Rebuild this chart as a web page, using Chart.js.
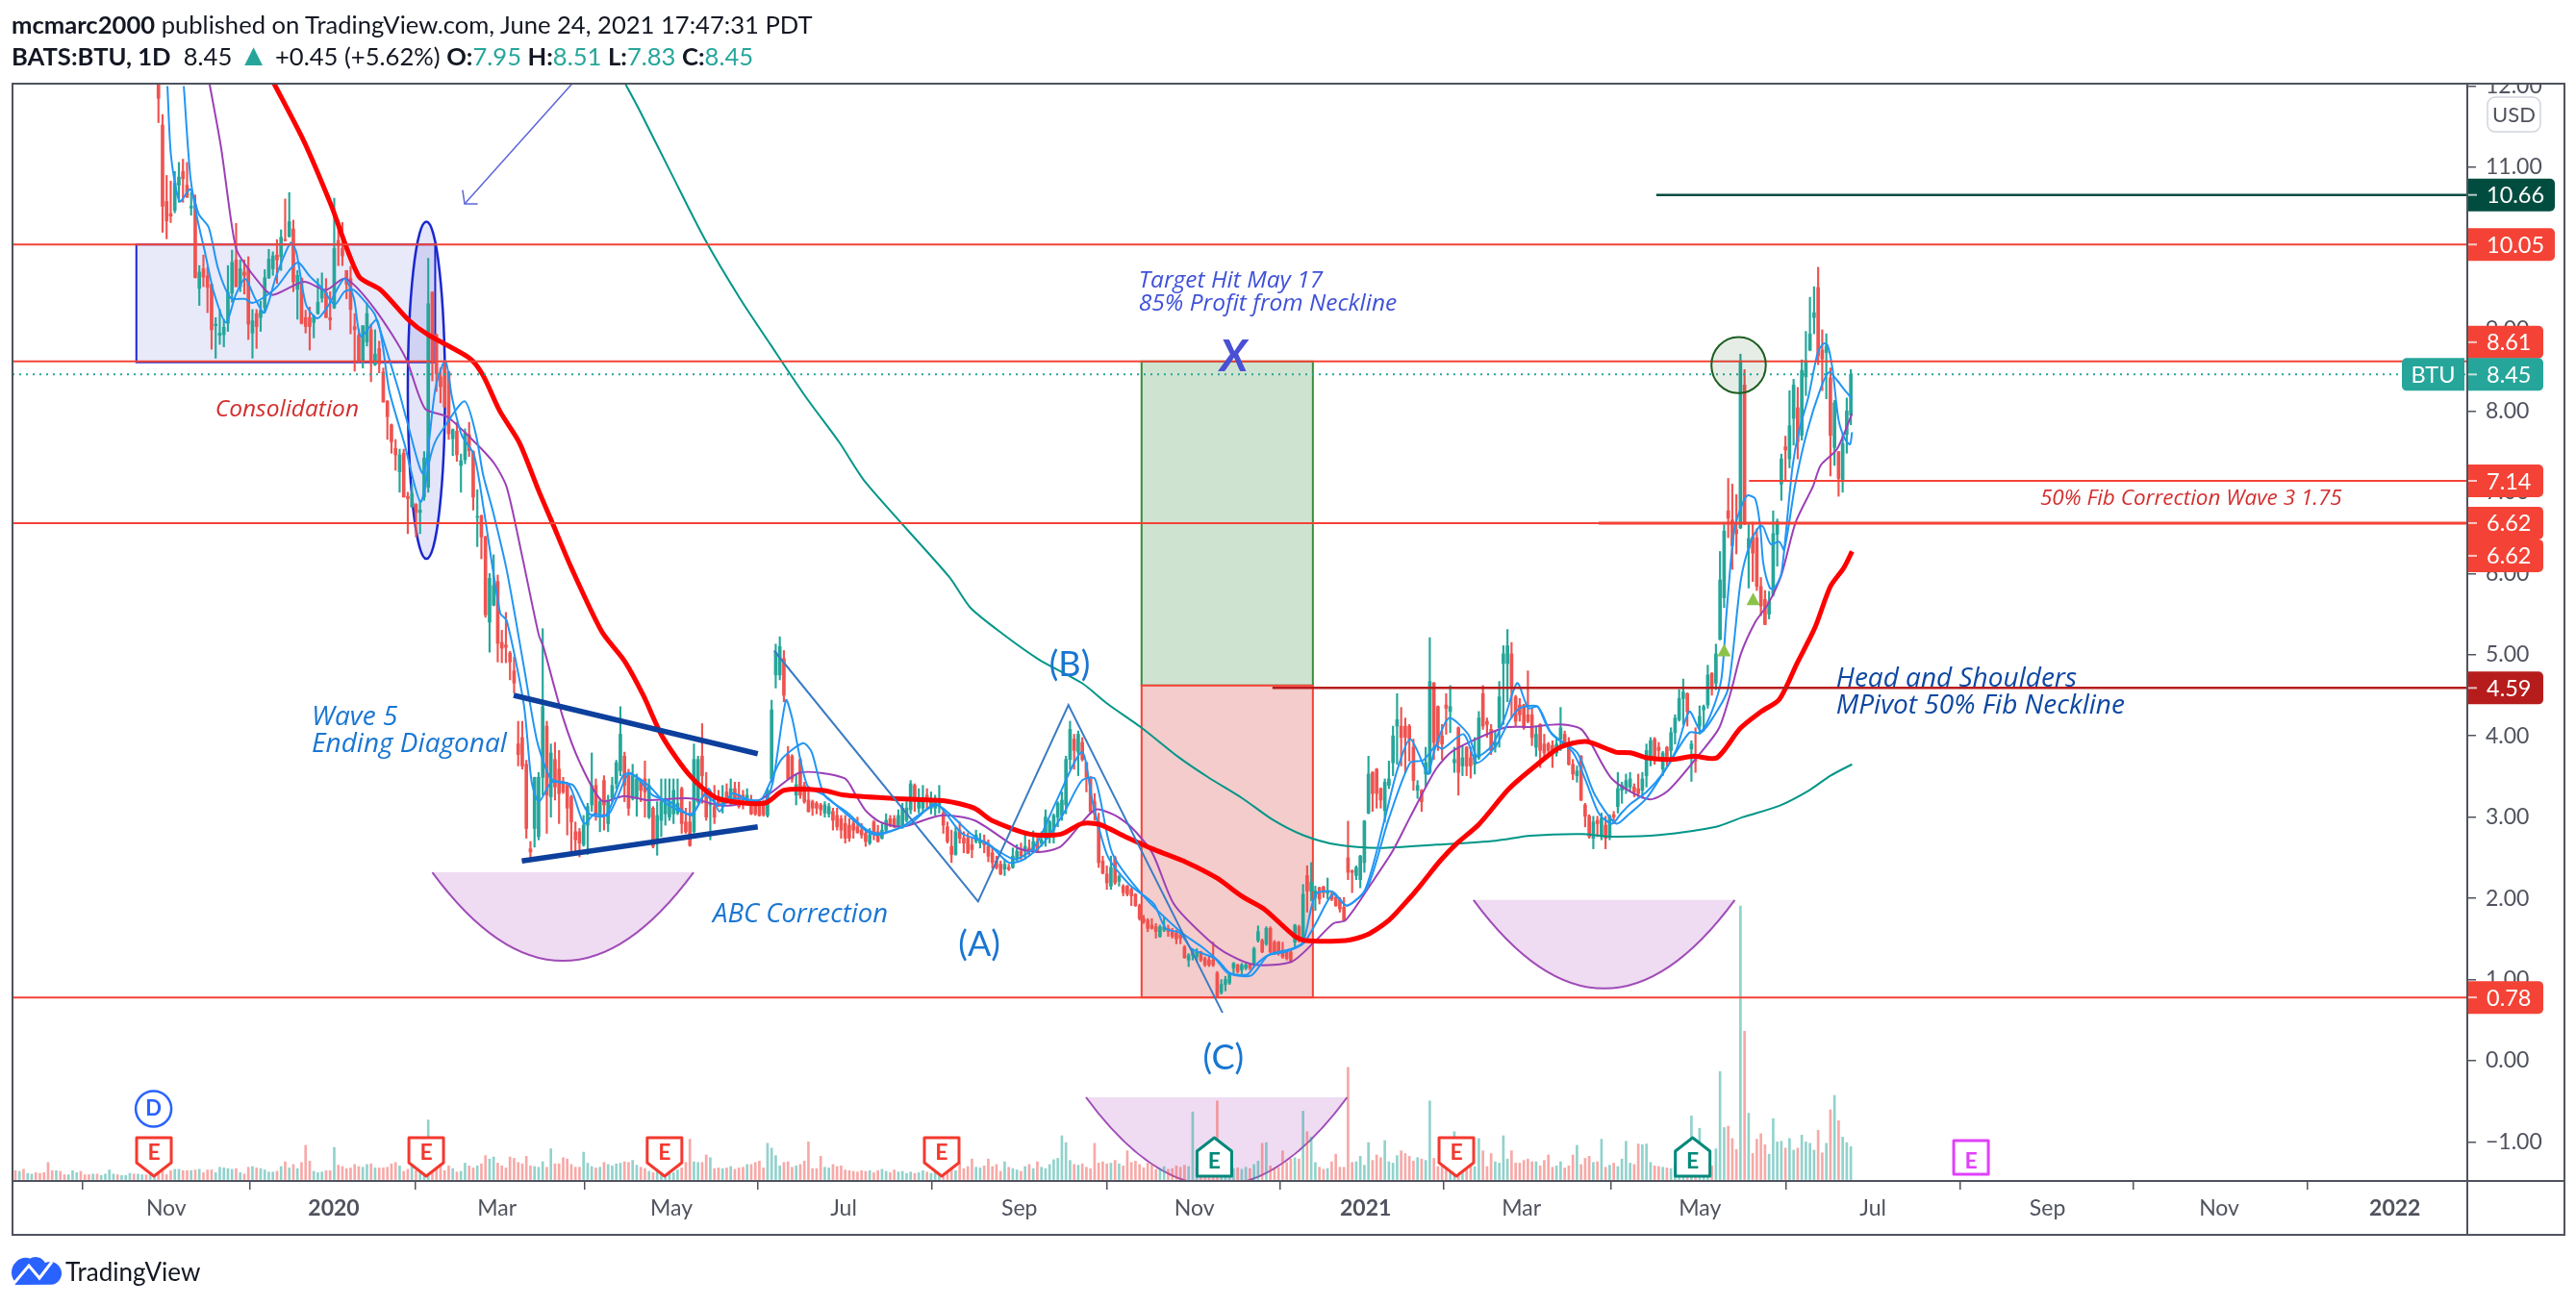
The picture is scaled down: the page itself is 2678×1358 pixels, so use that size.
<!DOCTYPE html>
<html>
<head>
<meta charset="utf-8">
<title>BATS:BTU, 1D</title>
<script src="https://cdn.jsdelivr.net/npm/chart.js@4/dist/chart.umd.min.js"></script>
<style>
    html, body { margin: 0; padding: 0; background: #fff; }
    #wrap { position: relative; width: 2678px; height: 1358px; overflow: hidden; font-family: Lato, sans-serif; color: #131722; }
    #chart { position: absolute; left: 0; top: 0; }
    .head { position: absolute; left: 12px; font-size: 25.6px; white-space: pre; line-height: 30px; }
    .head b { font-weight: 700; }
    .up { color: #26a69a; }
    .tri { color: #26a69a; font-size: 32px; line-height: 26px; }
    #foot { position: absolute; left: 68px; top: 1304px; font-size: 26px; line-height: 36px; color: #131722; }
</style>
</head>
<body>
<div id="wrap">
    <canvas id="chart" width="2678" height="1358"></canvas>
    <div class="head" style="top:10px"><b>mcmarc2000</b> published on TradingView.com, June 24, 2021 17:47:31 PDT</div>
    <div class="head" style="top:43px"><b>BATS:BTU, 1D</b>  8.45 <span class="tri">▲</span> +0.45 (+5.62%) <b>O:</b><span class="up">7.95</span> <b>H:</b><span class="up">8.51</span> <b>L:</b><span class="up">7.83</span> <b>C:</b><span class="up">8.45</span></div>
    <div id="foot">TradingView</div>
</div>
<script>
// x axis is in bar numbers, bar 0 is the first volume bar on the left
const lastBar = 449;
const xTickBars = [36.9, 77.9, 117.8, 160.5, 202.6, 245.6, 288.4, 330.3, 368.4, 412.1, 454.4, 497.1, 539.1, 582.1];
const xTickLabels = ['Nov', '2020', 'Mar', 'May', 'Jul', 'Sep', 'Nov', '2021', 'Mar', 'May', 'Jul', 'Sep', 'Nov', '2022'];
const yTickValues = [-1, 0, 1, 2, 3, 4, 5, 6, 7, 8, 9, 10, 11, 12];

// open, high, low, close for the bars that are on screen (older ones are above the top edge)
const candleRows = [
    [12.15,12.3,11.55,11.85],[11.52,11.65,10.2,10.52],[10.58,10.9,10.12,10.34],[10.43,10.83,10.32,10.4],[10.47,10.95,10.44,10.81],
    [10.78,11.06,10.57,10.88],[10.95,11.1,10.57,10.86],[10.78,11.06,10.63,10.63],[10.5,10.69,10.41,10.52],[10.54,10.66,9.64,9.64],
    [9.51,9.79,9.3,9.71],[9.75,9.92,9.53,9.65],[9.66,9.77,9.21,9.52],[9.56,9.56,8.76,9.0],[9.05,9.15,8.65,9.07],
    [8.93,9.25,8.82,8.96],[8.94,9.13,8.79,9.03],[9.08,9.79,8.98,9.46],[9.45,9.98,9.34,9.83],[9.86,10.31,9.53,9.53],
    [9.53,9.86,9.47,9.75],[9.71,9.86,9.44,9.67],[9.75,9.9,8.88,9.07],[8.96,9.25,8.65,9.11],[9.2,9.25,8.77,9.04],
    [9.15,9.35,8.98,9.24],[9.27,9.74,9.21,9.64],[9.64,9.99,9.63,9.87],[9.75,9.96,9.67,9.91],[9.92,10.11,9.57,9.86],
    [9.9,10.23,9.73,10.14],[10.11,10.61,10.09,10.1],[10.15,10.69,10.14,10.33],[10.24,10.35,9.47,9.59],[9.5,9.73,9.13,9.67],
    [9.63,9.64,9.07,9.08],[9.15,9.24,8.96,9.04],[9.15,9.28,8.75,9.04],[9.09,9.18,8.9,9.17],[9.2,9.63,9.19,9.34],
    [9.39,9.7,9.34,9.5],[9.46,9.63,9.15,9.15],[9.15,9.47,9.0,9.12],[9.27,10.62,9.26,10.0],[10.1,10.34,9.79,10.04],
    [10.0,10.32,9.79,9.91],[9.73,9.73,9.38,9.56],[9.63,9.78,8.95,9.25],[9.04,9.2,8.49,9.0],[8.93,9.01,8.6,8.61],
    [8.61,9.05,8.53,9.05],[8.85,9.33,8.8,9.2],[9.0,9.07,8.36,8.6],[8.57,9.0,8.56,8.7],[8.77,8.86,8.47,8.58],
    // Feb - Mar 2020 slide
    [8.48,8.53,8.11,8.11],[8.12,8.13,7.65,7.93],[7.83,7.84,7.48,7.62],[7.54,7.65,7.27,7.46],[7.25,7.53,7.0,7.46],
    [7.48,7.53,6.94,6.94],[6.95,7.0,6.49,6.92],[6.82,7.1,6.81,6.98],[6.85,6.86,6.45,6.75],[6.75,6.9,6.49,6.78],
    [6.94,7.5,6.9,7.42],[7.06,9.88,7.0,9.32],[9.46,9.47,8.37,8.62],[8.94,8.95,8.24,8.46],[8.42,8.53,8.1,8.3],
    [8.54,8.62,8.05,8.05],[8.48,8.49,7.65,7.72],[7.66,7.78,7.45,7.77],[7.75,7.86,7.38,7.46],[7.33,7.47,7.0,7.39],
    [7.4,7.78,7.35,7.73],[7.71,7.86,7.44,7.51],[7.5,7.51,6.78,6.94],[6.69,7.03,6.33,6.7],[6.71,6.72,6.18,6.45],
    [6.45,6.46,5.46,5.49],[5.4,6.0,5.03,5.94],[5.61,6.23,5.6,5.85],[5.9,5.98,4.91,5.14],[5.15,5.3,4.9,5.08],
    [5.12,5.52,4.9,5.09],[5.02,5.04,4.69,4.91],[4.8,4.97,4.53,4.65],
    // wedge, Mar - May 2020
    [3.9,4.18,3.63,3.77],[3.98,4.18,3.59,3.63],[3.65,3.7,2.74,2.86],[2.61,2.7,2.5,2.57],[2.86,3.49,2.63,3.49],
    [2.76,3.55,2.72,3.49],[3.49,5.32,3.27,4.36],[4.12,4.18,2.8,3.27],[3.25,3.9,3.0,3.79],[3.71,3.92,3.21,3.37],
    [3.59,3.82,2.92,3.29],[3.43,3.49,3.29,3.31],[3.39,3.43,2.78,3.11],[3.25,3.27,2.57,2.94],[2.82,2.94,2.58,2.72],
    [2.82,2.86,2.51,2.68],[2.66,3.02,2.64,2.9],[2.9,3.17,2.54,3.13],[3.15,3.79,3.07,3.39],[3.39,3.47,2.96,3.04],
    [3.05,3.23,2.82,3.19],[3.45,3.51,2.84,3.15],[2.92,3.27,2.82,3.21],[3.23,3.49,3.19,3.39],[3.41,3.7,3.35,3.67],
    [3.57,4.36,3.51,4.02],[3.75,3.8,3.19,3.39],[3.51,3.59,3.02,3.11],[3.23,3.65,3.21,3.51],[3.23,3.53,3.01,3.47],
    [3.43,3.47,3.19,3.33],[3.47,3.69,3.0,3.31],[3.0,3.47,2.98,3.39],[3.11,3.13,2.62,2.64],[2.68,3.19,2.53,3.02],
    [2.96,3.47,2.76,3.19],[3.04,3.47,2.9,3.23],[3.0,3.47,2.96,3.19],[3.04,3.47,2.92,3.33],[3.05,3.47,3.03,3.17],
    [3.35,3.37,2.8,2.92],[2.94,3.11,2.8,2.82],[2.94,3.19,2.64,2.65],[2.82,3.9,2.8,3.71],[3.19,3.75,3.17,3.71],
    [3.75,4.15,3.17,3.51],[3.27,3.55,2.96,3.0],[3.15,3.27,2.72,3.17],[3.13,3.39,2.92,3.0],[3.23,3.33,3.13,3.15],
    [3.13,3.39,3.05,3.21],[3.31,3.41,3.17,3.19],[3.23,3.47,3.15,3.35],[3.35,3.43,3.15,3.19],[3.27,3.43,3.11,3.13],
    [3.27,3.33,3.1,3.19],[3.19,3.35,3.15,3.27],[3.19,3.27,3.03,3.04],[3.19,3.21,3.02,3.04],[3.17,3.21,3.01,3.02],
    [3.17,3.21,3.01,3.03],[3.02,3.35,3.0,3.33],[3.47,4.44,3.43,4.32],[4.75,5.13,4.59,5.03],[4.75,5.22,4.69,5.1],
    [4.95,5.05,4.42,4.5],[3.77,3.87,3.46,3.47],[3.75,3.77,3.43,3.47],[3.27,3.53,3.15,3.4],[3.71,3.73,3.23,3.27],
    [3.39,3.43,3.17,3.19],[3.21,3.31,3.06,3.07],[3.19,3.21,3.02,3.11],[3.17,3.19,3.04,3.11],[3.15,3.17,3.02,3.09],
    [3.05,3.19,3.0,3.15],[3.04,3.17,3.0,3.13],[3.07,3.11,2.84,2.96],[3.02,3.11,2.84,2.88],[2.98,3.02,2.74,2.84],
    [2.92,3.02,2.68,2.74],[2.9,2.98,2.7,2.74],[2.92,2.96,2.74,2.84],[2.88,3.0,2.8,2.81],[2.84,2.92,2.74,2.78],
    [2.8,2.84,2.64,2.7],[2.68,2.86,2.66,2.78],[2.94,2.96,2.72,2.8],[2.82,2.9,2.69,2.7],[2.74,2.92,2.73,2.84],
    [2.84,3.04,2.82,2.96],[2.98,3.02,2.88,2.9],[2.98,3.02,2.87,2.88],[2.88,3.09,2.86,3.02],[2.88,3.17,2.86,3.11],
    [2.96,3.19,2.94,3.11],[3.09,3.45,3.04,3.41],[3.39,3.41,3.07,3.21],[3.11,3.35,3.05,3.23],[3.11,3.39,3.07,3.23],
    [3.27,3.35,3.09,3.19],[3.11,3.31,3.04,3.23],[3.11,3.27,3.02,3.21],[3.13,3.39,3.05,3.19],[3.05,3.11,2.8,2.9],
    [2.88,2.94,2.68,2.7],[2.64,2.84,2.44,2.54],[2.54,2.88,2.53,2.82],[2.84,2.94,2.68,2.74],[2.74,2.82,2.56,2.68],
    [2.74,2.8,2.55,2.56],[2.66,2.74,2.5,2.6],[2.7,2.84,2.68,2.78],[2.68,2.8,2.62,2.72],[2.7,2.78,2.56,2.66],
    [2.64,2.72,2.45,2.52],[2.56,2.64,2.37,2.44],[2.46,2.52,2.36,2.38],[2.42,2.46,2.29,2.3],[2.36,2.48,2.28,2.42],
    [2.38,2.42,2.34,2.36],[2.38,2.62,2.37,2.52],[2.48,2.66,2.46,2.58],[2.58,2.68,2.48,2.52],[2.58,2.8,2.48,2.64],
    [2.62,2.72,2.52,2.58],[2.6,2.83,2.56,2.7],[2.7,2.76,2.56,2.58],[2.68,2.82,2.64,2.72],[2.74,3.09,2.64,3.0],
    [2.8,2.96,2.68,2.94],[2.84,3.04,2.68,3.02],[3.0,3.19,2.88,3.17],[3.02,3.31,2.96,3.21],[3.15,3.75,3.04,3.71],
    [3.71,4.18,3.59,4.08],[3.96,4.02,3.59,3.82],[3.8,4.06,3.51,4.02],[3.92,3.98,3.69,3.71],[3.67,3.68,3.31,3.49],
    [3.49,3.5,3.05,3.07],[3.19,3.29,2.96,3.04],[2.94,3.05,2.38,2.44],[2.46,2.52,2.3,2.31],[2.3,2.4,2.11,2.19],
    [2.15,2.52,2.11,2.38],[2.5,2.52,2.17,2.19],[2.21,2.29,2.15,2.27],[2.15,2.17,2.03,2.07],
    // Oct - Dec 2020 low
    [2.15,2.16,2.03,2.05],[2.11,2.13,1.91,2.03],[2.05,2.06,1.9,1.91],[1.91,1.93,1.73,1.75],[1.75,1.79,1.69,1.71],
    [1.73,1.75,1.59,1.63],[1.67,1.75,1.62,1.63],[1.65,1.69,1.51,1.59],[1.53,1.67,1.52,1.65],[1.61,1.77,1.59,1.65],
    [1.63,1.67,1.53,1.59],[1.59,1.63,1.51,1.53],[1.57,1.61,1.44,1.5],[1.55,1.59,1.44,1.51],[1.4,1.42,1.26,1.27],
    [1.24,1.32,1.16,1.3],[1.3,1.38,1.24,1.36],[1.28,1.38,1.22,1.34],[1.34,1.35,1.22,1.24],[1.26,1.28,1.16,1.18],
    [1.24,1.28,1.16,1.18],[1.24,1.46,1.16,1.18],[1.08,1.1,0.78,0.8],[0.84,1.0,0.82,0.94],[0.94,1.04,0.86,1.0],
    [0.96,1.08,0.94,1.06],[1.14,1.21,1.08,1.2],[1.18,1.19,1.08,1.1],[1.12,1.2,1.04,1.18],[1.14,1.2,1.12,1.18],
    [1.18,1.2,1.12,1.14],[1.18,1.4,1.16,1.38],[1.48,1.66,1.46,1.59],[1.48,1.5,1.33,1.34],[1.44,1.65,1.42,1.63],
    [1.63,1.65,1.33,1.34],[1.46,1.48,1.31,1.32],[1.46,1.47,1.3,1.34],[1.34,1.46,1.26,1.28],[1.34,1.36,1.24,1.26],
    [1.34,1.38,1.21,1.22],[1.46,1.68,1.38,1.67],[1.65,1.67,1.46,1.48],[1.48,2.17,1.46,2.05],[2.28,2.4,1.83,2.09],
    [2.09,2.44,1.97,2.2],[2.01,2.15,1.85,2.09],[2.13,2.14,1.93,1.99],[2.14,2.15,2.01,2.07],[2.06,2.25,1.99,2.09],
    [2.05,2.09,1.97,1.99],[2.01,2.05,1.9,1.91],[1.99,2.01,1.83,1.87],[1.89,2.01,1.72,1.73],[2.5,2.95,2.23,2.32],
    [2.34,2.35,2.07,2.32],[2.28,2.4,2.23,2.38],[2.23,2.53,2.13,2.52],[2.44,2.96,2.32,2.95],[3.05,3.75,3.04,3.53],
    [3.55,3.56,3.07,3.29],[3.59,3.6,3.11,3.29],[3.35,3.36,3.11,3.21],[3.08,3.47,2.94,3.43],[3.39,3.69,3.35,3.47],
    [3.67,4.12,3.51,4.0],[4.12,4.52,3.65,4.2],[4.12,4.35,3.63,3.98],[4.12,4.22,3.55,3.98],[4.12,4.14,3.69,3.96],
    [3.86,3.96,3.33,3.45],[3.33,3.45,3.23,3.39],[3.33,3.34,3.07,3.19],[3.53,3.86,3.37,3.67],[3.55,5.21,3.53,4.67],
    [4.65,4.66,3.71,3.92],[4.36,4.37,3.82,3.92],[4.0,4.14,3.71,3.9],[4.38,4.52,4.02,4.34],[4.3,4.62,4.04,4.36],
    [3.67,3.86,3.55,3.71],[4.1,4.11,3.27,3.55],[3.63,3.88,3.51,3.73],[3.86,3.87,3.51,3.63],[3.73,3.86,3.48,3.63],
    [3.65,3.98,3.53,3.75],[3.73,4.3,3.71,4.22],[4.52,4.62,4.08,4.12],[4.18,4.22,3.98,4.14],[4.08,4.14,3.77,3.82],
    [3.86,4.06,3.8,3.92],[4.1,4.67,3.86,4.48],[4.89,5.11,4.14,5.01],[4.89,5.31,4.42,5.11],[5.01,5.15,4.22,4.61],
    [4.48,4.5,4.12,4.18],[4.38,4.46,4.18,4.26],[4.38,4.39,4.08,4.1],[4.26,4.8,4.16,4.18],[4.26,4.34,3.88,3.98],
    [3.86,4.12,3.75,4.02],[4.14,4.15,3.61,3.82],[3.9,4.02,3.73,3.79],[3.9,3.92,3.79,3.82],[3.88,3.94,3.61,3.79],
    [3.79,3.98,3.75,3.9],[3.96,4.35,3.82,4.1],[4.02,4.06,3.86,3.92],[3.9,3.98,3.64,3.65],[3.65,3.71,3.46,3.53],
    [3.51,3.63,3.43,3.57],[3.75,3.76,3.2,3.21],[3.15,3.17,2.88,3.01],[3.01,3.03,2.74,2.76],[2.74,3.01,2.61,2.94],
    [2.96,3.01,2.76,2.92],[2.76,3.05,2.72,2.99],[2.9,3.01,2.61,2.74],[2.76,3.03,2.72,3.01],[3.03,3.07,2.92,3.0],
    [3.13,3.55,3.05,3.35],[3.33,3.43,3.17,3.39],[3.35,3.53,3.29,3.45],[3.37,3.55,3.31,3.47],[3.37,3.41,3.25,3.31],
    [3.35,3.53,3.25,3.29],[3.33,3.55,3.23,3.47],[3.51,3.9,3.37,3.82],[3.71,3.98,3.63,3.94],[3.96,3.98,3.65,3.73],
    [3.86,3.92,3.71,3.82],[3.59,3.81,3.51,3.79],[3.86,3.87,3.63,3.69],[3.82,4.1,3.73,4.04],[4.04,4.26,3.9,4.22],
    [4.2,4.57,4.18,4.46],[4.46,4.7,4.14,4.54],[4.52,4.53,4.12,4.3],[3.84,3.94,3.44,3.9],[3.75,4.1,3.55,3.69],
    [4.12,4.37,4.02,4.24],[4.32,4.38,4.06,4.36],[4.38,4.87,4.34,4.75],[4.77,4.78,4.5,4.59],[4.65,5.13,4.57,5.01],
    // May - June 2021
    [5.19,6.27,5.18,5.92],[5.7,6.6,5.58,6.52],[6.77,7.17,6.44,6.68],[6.66,7.1,6.05,6.34],[6.54,6.97,6.24,6.49],
    [6.56,8.7,6.55,8.62],[8.32,8.51,6.6,6.63],[6.31,6.6,5.82,6.43],[6.45,6.63,5.9,6.25],[6.44,6.55,5.79,5.84],
    [5.84,5.95,5.48,5.6],[5.68,5.79,5.37,5.37],[5.5,5.78,5.44,5.66],[5.74,6.77,5.72,6.49],[6.48,6.67,6.09,6.64],
    [7.1,7.47,6.9,7.41],[7.56,7.69,7.14,7.52],[7.41,8.25,7.3,7.82],[7.91,8.39,7.58,8.32],[8.04,8.29,7.41,7.62],
    [7.7,8.63,7.64,8.5],[8.42,8.98,8.19,8.62],[8.75,9.4,8.74,8.95],[9.15,9.53,8.95,9.21],[9.52,9.77,8.57,8.68],
    [8.75,9.0,8.25,8.64],[8.72,8.95,8.15,8.8],[8.41,8.53,7.2,7.7],[7.55,8.13,7.33,8.1],[7.5,7.5,6.95,7.17],
    [7.13,7.72,7.0,7.6],[7.71,8.16,7.48,8.0],[7.95,8.51,7.83,8.45]
];

// volume per bar in millions of shares, ten bars to a line
const volumes = [
    1.3,1.2,1.5,0.9,0.8,1.0,0.9,1.0,2.5,1.3,
    1.3,1.2,0.7,0.7,1.3,1.0,1.2,0.7,0.7,0.8,
    0.8,0.6,0.8,1.4,0.8,0.7,0.6,0.6,0.9,0.8,
    0.8,0.7,0.7,0.8,0.7,0.9,1.2,0.7,1.3,1.5,
    1.5,1.3,1.3,1.3,1.4,1.5,1.0,1.4,1.4,1.0,
    1.8,1.7,1.6,1.5,1.6,1.0,0.8,1.8,1.9,1.7,
    1.6,1.4,1.1,1.1,1.2,1.9,2.6,1.7,2.2,1.6,
    2.5,5.0,2.7,1.2,1.0,1.1,1.3,1.3,4.7,2.1,
    1.9,1.6,1.7,2.2,1.9,1.8,2.2,2.3,1.7,1.7,
    1.7,1.8,2.3,2.5,2.0,1.2,1.5,2.1,1.3,1.9,
    2.4,8.7,1.2,1.6,2.2,1.3,2.0,1.6,1.1,1.2,
    2.4,2.0,1.7,2.0,2.3,3.5,3.0,3.3,2.4,2.0,
    1.7,3.3,3.1,2.5,2.3,3.4,2.0,1.9,1.8,2.6,
    1.8,4.5,2.3,2.3,3.2,3.0,2.2,1.8,1.8,4.0,
    2.4,1.9,1.7,1.8,2.5,2.2,2.0,2.3,2.4,2.6,
    2.5,2.8,2.1,1.8,1.6,1.2,1.0,2.0,1.5,1.4,
    0.9,1.0,1.4,1.7,2.5,5.9,2.6,2.5,2.5,3.6,
    3.2,1.6,1.7,1.6,1.7,1.9,1.5,1.7,1.8,2.2,
    2.2,2.5,2.7,1.7,5.3,4.6,3.5,2.0,2.5,2.6,
    1.8,2.0,2.2,2.7,5.5,1.6,1.6,3.4,1.8,1.7,
    2.2,1.9,2.0,1.4,1.3,1.2,1.1,1.3,1.2,1.3,
    1.0,1.3,1.5,1.2,1.0,1.4,1.1,1.2,0.9,1.1,
    0.9,1.0,1.3,1.1,0.9,1.2,1.0,0.9,1.2,1.5,
    1.3,2.4,1.6,1.9,3.0,1.8,1.7,2.0,3.0,1.9,
    2.2,1.2,2.6,1.8,1.6,1.4,1.2,1.9,2.2,1.6,
    2.6,1.8,1.6,2.2,2.9,3.1,6.4,5.4,2.8,2.2,
    2.1,2.3,1.8,1.6,5.3,2.4,2.6,2.3,2.4,2.8,
    2.3,2.0,4.2,2.5,2.7,2.2,1.7,2.4,2.2,1.5,
    1.6,1.9,1.5,1.6,2.0,1.8,2.1,1.9,9.9,1.6,
    3.0,3.2,2.2,2.0,11.5,2.4,2.0,1.9,1.6,1.7,
    1.5,1.8,1.6,2.2,2.7,5.3,5.4,2.0,1.6,1.8,
    4.2,2.5,3.0,3.2,3.0,10.0,7.0,6.2,2.5,1.8,
    1.5,1.6,2.6,3.7,1.8,1.8,16.4,2.5,2.6,3.4,
    2.1,5.4,2.8,3.6,3.2,5.7,2.6,2.4,3.5,4.2,
    3.8,3.4,2.7,3.2,3.0,2.8,11.5,3.1,1.9,2.6,
    2.3,2.6,7.0,3.0,4.4,2.6,2.0,1.9,6.0,4.2,
    1.9,3.8,2.6,2.4,6.4,3.0,4.2,2.4,2.4,2.8,
    3.0,2.6,2.6,2.0,2.8,3.6,1.8,2.0,2.6,1.7,
    2.0,3.6,5.0,2.2,3.1,3.4,2.5,2.6,5.9,1.8,
    2.1,2.4,1.9,3.0,5.6,2.4,2.2,5.2,5.1,5.2,
    2.5,2.0,1.9,1.8,1.7,1.6,2.0,1.2,1.5,2.4,
    9.3,2.2,7.5,2.2,2.5,2.0,4.5,15.8,7.6,7.8,
    6.0,4.4,40,21.7,9.7,3.8,5.9,6.7,5.1,3.7,
    8.9,5.5,5.6,4.6,6.0,4.3,4.6,6.5,5.5,5.3,
    4.3,7.2,3.9,5.3,10.2,12.3,8.6,6.2,5.4,4.8
];
// colour of the volume bars whose candles are off the top of the chart, 1 = up
const earlyVolumeUp = [0,1,0,1,1,0,0,0,0,0,1,0,0,1,1,1,0,0,0,1,0,1,1,1,1,0,1,1,1,0,1,1,0,1,1];

const maRedBars = [63.3,70.6,77.2,84,89.4,96.2,100.9,111.1,114.4,118.5,123.3,128,131.3,136,143.5,148.9,153.6,158.4,165.2,171.8,183.3,188,197.4,202.8,214.7,227.3,234.6,238.8,248.2,255.8,260.9,265.2,271.5,278.6,286.6,293.9,300.2,305.4,312.8,315.5,325.4,330.6,336,341.2,344.2,348.5,352.7,358,365.4,371.6,377.9,384.2,391.5,395.3,399.1,405.2,410.6,416.2,421.9,427.1,431.5,435.8,440.2,444,447.3,449.3];
const maRedValues = [12.03,11.32,10.54,9.66,9.49,9.12,8.94,8.65,8.44,8.0,7.61,7.02,6.63,6.07,5.28,4.93,4.5,3.98,3.5,3.23,3.17,3.33,3.33,3.27,3.23,3.2,3.11,2.96,2.79,2.79,2.92,2.91,2.76,2.6,2.44,2.25,2.02,1.87,1.54,1.48,1.48,1.55,1.73,2.01,2.19,2.46,2.68,2.91,3.35,3.62,3.86,3.93,3.8,3.79,3.73,3.71,3.75,3.73,4.09,4.3,4.45,4.89,5.33,5.84,6.07,6.27];

const maTealBars = [149.2,152.9,160.4,168.5,177.2,184.7,193.4,201.6,208,228.4,233.6,241.4,250.4,260.9,267.3,275.5,284.5,291.8,300.2,307.5,314.9,323.3,333.9,347.5,362.1,370.6,383.3,390.6,402.1,416,422.6,431.5,438.8,444,449.3];
const maTealValues = [12.03,11.68,10.93,10.13,9.39,8.82,8.17,7.61,7.12,5.96,5.58,5.26,4.94,4.65,4.39,4.1,3.74,3.49,3.23,2.97,2.78,2.66,2.62,2.66,2.71,2.77,2.79,2.76,2.78,2.88,3.0,3.14,3.33,3.51,3.65];

const maPurpleBars = [47.5,50.3,52.9,54.4,61.1,63.1,70.6,76,80.7,88,95.5,100.2,105.6,112.5,117.2,120.2,123.9,128,129.2,134,138.1,143.5,148.9,154.4,165.1,173.2,181.9,185.4,192,202.8,205.6,208,211.5,216.8,226.4,234.6,245.2,250.4,255.8,264,268.7,272.9,278.1,283.4,291.8,297.1,303.3,312.2,318.1,322.4,325.4,331.8,336.9,341.2,347.5,351.8,364.2,370.6,377.9,383.3,390.6,399.5,404.2,412.7,416.8,419.8,422.1,425.6,428.7,432,435.5,439.8,441.6,445.6,449.3];
const maPurpleValues = [12.03,11.25,10.3,9.95,9.49,9.43,9.59,9.49,9.63,9.25,8.65,8.03,7.93,7.61,7.35,7.06,6.23,5.25,5.09,4.22,3.67,3.2,3.26,3.21,3.23,3.14,3.21,3.32,3.55,3.48,3.27,3.08,2.94,2.88,3.02,2.96,2.62,2.57,2.64,3.09,3.03,2.88,2.56,1.93,1.49,1.3,1.18,1.22,1.48,1.69,1.73,2.19,2.58,3.0,3.59,3.82,4.1,4.11,4.14,4.07,3.47,3.22,3.32,3.82,4.1,4.57,5.01,5.4,5.62,5.98,6.63,7.08,7.33,7.53,7.97];

const maFastBars = [37.2,38.1,40.2,42.8,44.9,47.3,49.6,52.7,56.2,57.9,60.5,64,67.3,69.2,72,75.1,78.1,80.5,82.8,86.1,88,93.9,95.5,99.8,102.8,105.2,106.8,109.2,112.2,114.6,118.6,120.2,124.4,126.3,128.1,131.2,135.4,139.1,141.7,144.9,147.5,150.1,154.9,159.1,165.4,169.6,172.2,175.3,179.5,183.2,185.3,188.5,190,193.7,197.9,203.2,208.4,211,216.8,225.2,229.4,233.6,239.9,244.6,249.4,254.6,260.9,263.5,267.2,272.5,278.5,281.4,285,287.7,293.4,296.6,302.3,306.5,312.3,315,318.1,322.3,325.7,330.2,334.9,338.1,341.2,344.9,345.6,347.5,350.7,355.4,357.5,361.2,364.3,367.4,370.1,372.4,375.3,381.1,384.3,387.4,390.6,392.7,394.8,399,403.2,406.3,409.5,412.3,414.7,417.3,418.6,420.5,422.5,423.7,425.6,426.8,427.6,429.2,430.3,431.9,432.7,434.7,436.2,438.6,440.9,442.3,443.3,444.5,446,447.6,448.8,449.3];
const maFastValues = [12.0,11.13,10.58,10.73,10.42,10.26,9.75,9.39,9.38,9.33,9.39,9.53,9.75,9.83,9.66,9.51,9.31,9.47,9.49,9.31,9.18,8.23,7.93,7.23,8.29,8.62,8.17,7.7,7.46,6.78,5.51,5.42,4.38,3.43,3.19,3.43,3.4,2.92,3.04,3.02,3.27,3.53,3.39,3.17,3.04,3.35,3.07,3.29,3.21,3.18,3.43,4.44,4.22,3.39,3.27,3.04,2.82,2.78,2.88,3.15,3.0,2.8,2.6,2.48,2.64,3.19,3.8,3.19,2.52,2.17,1.93,1.63,1.57,1.38,1.26,1.08,1.05,1.3,1.38,1.46,2.05,2.08,1.91,2.11,2.96,3.59,3.96,3.59,3.53,3.88,4.22,4.02,3.75,3.88,4.22,4.65,4.34,4.36,4.06,3.79,3.43,3.04,2.92,3.04,3.15,3.31,3.55,3.83,4.3,4.06,4.26,4.69,5.52,6.55,6.86,6.96,6.92,6.59,6.12,5.82,5.82,5.98,6.29,7.3,7.73,8.17,8.72,8.83,8.81,8.52,7.89,7.65,7.59,7.74];

const maSlowBars = [41.2,42.8,44.5,46.4,48.5,51.5,53.9,56.2,58.6,60.9,63.8,67.3,68.7,71.1,73.9,76.7,80.5,82.8,84.5,88.5,91.5,95.1,99.1,101.4,102.6,104.5,109.9,112.7,114.4,116.9,120.2,124.4,127.6,130.7,132.8,136.5,140.2,144.4,148.6,150.7,153.8,155.9,160.1,165.4,168.5,172.2,175.9,182.2,184.3,187.4,192.7,194.8,197.9,203.2,208.4,211.6,218.9,225.2,231.5,237.8,243,246.7,251.5,256.7,260.9,264.1,268.3,275.6,285,290.8,294.5,297.1,301.3,303.4,306.5,310.7,315,318.1,322.3,325.7,330.7,335.9,341.2,344.4,347.5,349.1,354.3,357.5,362.2,365.4,368,372.4,375.9,382.1,386.4,391.6,394.8,399,404.2,409.5,412.3,415.2,418.9,422.1,424.5,426.8,427.6,429.4,431.5,432.7,435.4,438.2,441.7,443.7,445.6,447.6,449.3];
const maSlowValues = [12.0,10.89,10.37,9.95,9.47,9.09,9.43,9.63,9.39,9.21,9.66,10.07,9.96,9.31,9.14,9.31,9.63,9.39,8.92,9.12,8.24,7.61,6.88,7.41,7.61,7.77,8.12,7.7,7.22,6.75,6.04,4.85,3.94,3.49,3.43,3.39,3.05,3.02,3.51,3.54,3.39,3.27,3.19,3.02,3.27,3.15,3.23,3.21,3.39,3.71,3.91,3.8,3.27,3.07,2.84,2.8,2.92,3.16,2.8,2.68,2.44,2.48,2.68,3.07,3.45,3.47,2.56,2.05,1.59,1.38,1.22,1.08,1.06,1.18,1.3,1.34,1.44,1.69,2.05,1.91,2.13,2.97,3.67,3.7,3.88,3.84,4.02,3.67,3.88,4.18,4.34,4.36,4.02,3.79,3.27,2.92,3.04,3.23,3.63,4.04,4.04,4.22,4.57,5.92,6.39,6.59,6.57,6.36,6.39,6.29,7.1,7.73,8.29,8.48,8.38,8.25,8.15];

// price scale tags
const tagLabels = ['10.66', '10.05', '8.61', '8.45', '7.14', '6.62', '6.62', '4.59', '0.78'];
const tagValues = [10.66, 10.05, 8.61, 8.45, 7.14, 6.62, 6.62, 4.59, 0.78];
const tagColors = ['#004d40', '#f44336', '#f44336', '#26a69a', '#f44336', '#f44336', '#f44336', '#b71c1c', '#f44336'];
const tagNudge = [0, 0, -20, 0, 0, 0, 34, 0, 0];

// earnings flags
const earningsBars = [33.9, 100.5, 158.8, 226.6, 293.3, 352.5, 410.3, 478.4];
const earningsKinds = ['down', 'down', 'down', 'down', 'up', 'down', 'up', 'next'];

const upColor = '#26a69a';
const downColor = '#ef5350';
const firstCandleBar = lastBar - candleRows.length + 1;

function toPoints(xs, ys) {
    return xs.map((x, i) => ({ x, y: ys[i] }));
}

function maDataset(xs, ys, color, width, order) {
    return {
        type: 'line',
        data: toPoints(xs, ys),
        borderColor: color,
        borderWidth: width,
        pointRadius: 0,
        tension: 0.25,
        order,
        yAxisID: 'y',
    };
}

const isUp = (r) => r[3] >= r[0];

const volumeUp = volumes.map((_, i) => {
    if (i < firstCandleBar) return earlyVolumeUp[i] === 1;
    return isUp(candleRows[i - firstCandleBar]);
});

// trend lines, boxes and notes that were drawn on the chart by hand, in bar / price units
function drawBoxes(chart) {
    const { ctx, scales, chartArea } = chart;
    const X = (v) => scales.x.getPixelForValue(v);
    const Y = (v) => scales.y.getPixelForValue(v);

    const box = (x1, x2, top, bottom, fill, stroke) => {
        ctx.fillStyle = fill;
        ctx.fillRect(X(x1), Y(top), X(x2) - X(x1), Y(bottom) - Y(top));
        ctx.strokeStyle = stroke;
        ctx.lineWidth = 2;
        ctx.strokeRect(X(x1), Y(top), X(x2) - X(x1), Y(bottom) - Y(top));
    };
    const oval = (x1, x2, top, bottom, fill, stroke) => {
        ctx.beginPath();
        ctx.ellipse((X(x1) + X(x2)) / 2, (Y(top) + Y(bottom)) / 2, (X(x2) - X(x1)) / 2, (Y(bottom) - Y(top)) / 2, 0, 0, Math.PI * 2);
        ctx.fillStyle = fill;
        ctx.fill();
        ctx.strokeStyle = stroke;
        ctx.lineWidth = 2.5;
        ctx.stroke();
    };
    const arc = (x1, x2, top, low) => {
        ctx.beginPath();
        ctx.moveTo(X(x1), Y(top));
        ctx.quadraticCurveTo((X(x1) + X(x2)) / 2, 2 * Y(low) - Y(top), X(x2), Y(top));
        ctx.fillStyle = 'rgba(156, 39, 176, 0.16)';
        ctx.fill();
        // the top edge stays open in the original
        ctx.strokeStyle = '#a04cb8';
        ctx.lineWidth = 2;
        ctx.stroke();
    };

    ctx.save();
    ctx.beginPath();
    ctx.rect(chartArea.left, chartArea.top, chartArea.width, chartArea.height);
    ctx.clip();

    box(275.5, 317.4, 8.61, 4.62, '#cfe3d1', '#388e3c');
    box(275.5, 317.4, 4.62, 0.78, '#f3cccb', '#f44336');
    box(29.6, 102.7, 10.05, 8.6, 'rgba(33, 40, 200, 0.1)', '#1a27d0');
    oval(96, 105.1, 10.33, 6.18, 'rgba(33, 40, 200, 0.12)', '#1a27d0');
    arc(102, 165.9, 2.32, 1.23);
    arc(356.7, 420.6, 1.98, 0.89);
    arc(261.9, 325.8, -0.45, -1.54);
    ctx.restore();
}

function drawLines(chart) {
    const { ctx, scales, chartArea } = chart;
    const X = (v) => scales.x.getPixelForValue(v);
    const Y = (v) => scales.y.getPixelForValue(v);

    const line = (points, color, width, dash) => {
        ctx.beginPath();
        points.forEach((p, i) => {
            if (i === 0) ctx.moveTo(X(p[0]), Y(p[1]));
            else ctx.lineTo(X(p[0]), Y(p[1]));
        });
        ctx.strokeStyle = color;
        ctx.lineWidth = width;
        ctx.setLineDash(dash || []);
        ctx.stroke();
        ctx.setLineDash([]);
    };
    const note = (text, x, y, color, font, align) => {
        ctx.fillStyle = color;
        ctx.font = font;
        ctx.textAlign = align || 'left';
        ctx.textBaseline = 'middle';
        ctx.fillText(text, X(x), Y(y));
    };

    ctx.save();
    ctx.beginPath();
    ctx.rect(chartArea.left, chartArea.top, chartArea.width, chartArea.height);
    ctx.clip();

    const xMin = scales.x.min;
    const xMax = scales.x.max;
    line([[xMin, 10.05], [xMax, 10.05]], '#f44336', 2);
    line([[xMin, 8.61], [xMax, 8.61]], '#f44336', 2);
    line([[xMin, 6.62], [xMax, 6.62]], '#f44336', 2);
    line([[387.3, 6.62], [xMax, 6.62]], '#f44336', 3);
    line([[xMin, 0.78], [xMax, 0.78]], '#f44336', 2);
    line([[307.5, 4.59], [xMax, 4.59]], '#b71c1c', 2.5);
    line([[424.1, 7.14], [xMax, 7.14]], '#f44336', 2);
    line([[401.4, 10.66], [xMax, 10.66]], '#004d40', 2.5);
    line([[xMin, 8.45], [xMax, 8.45]], upColor, 2, [2, 5]);

    line([[121.9, 4.5], [181.6, 3.78]], '#0d3f9c', 5.5);
    line([[123.9, 2.46], [181.6, 2.88]], '#0d3f9c', 5.5);
    line([[185.6, 5.05], [235.5, 1.96], [257.6, 4.38], [295.3, 0.59]], '#3a7cc4', 2);
    line([[136.2, 12.03], [109.9, 10.55]], '#5c65d8', 1.5);
    line([[109.4, 10.72], [109.9, 10.55], [113.1, 10.55]], '#5c65d8', 1.5);

    // circle on the May spike
    ctx.beginPath();
    ctx.ellipse((X(414.9) + X(428.2)) / 2, (Y(8.91) + Y(8.22)) / 2, (X(428.2) - X(414.9)) / 2, (Y(8.22) - Y(8.91)) / 2, 0, 0, Math.PI * 2);
    ctx.fillStyle = 'rgba(27, 94, 32, 0.11)';
    ctx.fill();
    ctx.strokeStyle = '#1b5e20';
    ctx.lineWidth = 2;
    ctx.stroke();

    // buy signals
    [[418, 5.05], [425.1, 5.68]].forEach((p) => {
        ctx.beginPath();
        ctx.moveTo(X(p[0]), Y(p[1]) - 7);
        ctx.lineTo(X(p[0]) + 7, Y(p[1]) + 6);
        ctx.lineTo(X(p[0]) - 7, Y(p[1]) + 6);
        ctx.closePath();
        ctx.fillStyle = '#8bc34a';
        ctx.fill();
    });

    const red = '#d32f2f';
    const blue = '#1976d2';
    const navy = '#0d47a1';
    const violet = '#3f51d8';
    const noteFont = (size) => `italic 500 ${size}px "Open Sans"`;
    note('Consolidation', 48.9, 8.02, red, noteFont(24.5));
    note('Wave 5', 72.5, 4.23, blue, noteFont(28));
    note('Ending Diagonal', 72.5, 3.9, blue, noteFont(28));
    note('ABC Correction', 170.6, 1.8, blue, noteFont(27.5));
    note('(A)', 235.8, 1.43, blue, '36px Lato', 'center');
    note('(B)', 257.9, 4.87, blue, '36px Lato', 'center');
    note('(C)', 295.5, 0.03, blue, '36px Lato', 'center');
    note('Target Hit May 17', 274.8, 9.6, violet, noteFont(24.5));
    note('85% Profit from Neckline', 274.8, 9.32, violet, noteFont(24.5));
    note('X', 298, 8.66, '#4a50d4', 'italic bold 46px Lato', 'center');
    note('50% Fib Correction Wave 3 1.75', 495.3, 6.92, red, noteFont(22.5));
    note('Head and Shoulders', 445.4, 4.7, navy, noteFont(28));
    note('MPivot 50% Fib Neckline', 445.4, 4.37, navy, noteFont(28));

    // earnings flags along the bottom of the pane
    earningsBars.forEach((bar, i) => {
        const kind = earningsKinds[i];
        const cx = X(bar);
        const top = chartArea.bottom - 45;
        const bottom = chartArea.bottom - 5;
        const w = 18;
        const color = kind === 'up' ? '#00897b' : kind === 'next' ? '#e040fb' : '#f4392f';
        ctx.beginPath();
        if (kind === 'down') {
            ctx.moveTo(cx - w, top);
            ctx.lineTo(cx + w, top);
            ctx.lineTo(cx + w, bottom - 14);
            ctx.lineTo(cx, bottom);
            ctx.lineTo(cx - w, bottom - 14);
        } else if (kind === 'up') {
            ctx.moveTo(cx, top);
            ctx.lineTo(cx + w, top + 14);
            ctx.lineTo(cx + w, bottom);
            ctx.lineTo(cx - w, bottom);
            ctx.lineTo(cx - w, top + 14);
        } else {
            ctx.moveTo(cx - w, top + 3);
            ctx.lineTo(cx + w, top + 3);
            ctx.lineTo(cx + w, bottom - 2);
            ctx.lineTo(cx - w, bottom - 2);
        }
        ctx.closePath();
        ctx.fillStyle = '#fff';
        ctx.fill();
        ctx.strokeStyle = color;
        ctx.lineWidth = 3;
        ctx.lineJoin = 'round';
        ctx.stroke();
        ctx.fillStyle = color;
        ctx.font = 'bold 23px Lato';
        ctx.textAlign = 'center';
        ctx.textBaseline = 'middle';
        ctx.fillText('E', cx, kind === 'down' ? top + 16 : bottom - 15);
    });

    // dividend marker
    ctx.beginPath();
    ctx.arc(X(33.8), chartArea.bottom - 75, 18.5, 0, Math.PI * 2);
    ctx.fillStyle = '#fff';
    ctx.fill();
    ctx.strokeStyle = '#2962ff';
    ctx.lineWidth = 2.5;
    ctx.stroke();
    ctx.fillStyle = '#2962ff';
    ctx.font = 'bold 22px Lato';
    ctx.textAlign = 'center';
    ctx.textBaseline = 'middle';
    ctx.fillText('D', X(33.8), chartArea.bottom - 75);
    ctx.restore();
}

function drawFrame(chart) {
    const { ctx, scales, chartArea, width } = chart;
    const Y = (v) => scales.y.getPixelForValue(v);
    const frameColor = '#50535e';
    const right = width - 12;
    const axisX = chartArea.right;

    // the top label runs under the frame
    ctx.fillStyle = '#fff';
    ctx.fillRect(axisX + 1, 0, right - axisX, chartArea.top);

    tagLabels.forEach((label, i) => {
        const y = Y(tagValues[i]) + tagNudge[i];
        const w = label.length > 4 ? 90 : 78;
        ctx.beginPath();
        ctx.roundRect(axisX + 1, y - 17, w, 34, [0, 5, 5, 0]);
        ctx.fillStyle = tagColors[i];
        ctx.fill();
        ctx.fillStyle = 'rgba(255,255,255,0.7)';
        ctx.fillRect(axisX + 1, y - 1, 9, 2);
        ctx.fillStyle = '#fff';
        ctx.font = '23.5px Lato';
        ctx.textAlign = 'left';
        ctx.textBaseline = 'middle';
        ctx.fillText(label, axisX + 20, y + 1);
    });

    // symbol tag next to the last price
    const btuY = Y(8.45);
    ctx.beginPath();
    ctx.roundRect(axisX - 68, btuY - 17, 65, 34, [5, 0, 0, 5]);
    ctx.fillStyle = upColor;
    ctx.fill();
    ctx.fillStyle = '#fff';
    ctx.font = '23.5px Lato';
    ctx.textAlign = 'center';
    ctx.textBaseline = 'middle';
    ctx.fillText('BTU', axisX - 35.5, btuY + 1);

    // currency chip
    ctx.beginPath();
    ctx.roundRect(axisX + 21, 101, 55, 36, 8);
    ctx.fillStyle = '#fff';
    ctx.fill();
    ctx.strokeStyle = '#d1d4dc';
    ctx.lineWidth = 1.5;
    ctx.stroke();
    ctx.fillStyle = '#50535e';
    ctx.font = '22px Lato';
    ctx.fillText('USD', axisX + 48.5, 120);

    ctx.strokeStyle = frameColor;
    ctx.lineWidth = 2;
    ctx.strokeRect(chartArea.left, chartArea.top, right - chartArea.left, 1284 - chartArea.top);
    ctx.beginPath();
    ctx.moveTo(chartArea.left, chartArea.bottom);
    ctx.lineTo(right, chartArea.bottom);
    ctx.moveTo(axisX, chartArea.top);
    ctx.lineTo(axisX, 1284);
    ctx.stroke();

    // TradingView logo
    ctx.fillStyle = '#2962ff';
    ctx.beginPath();
    ctx.moveTo(15, 1336);
    ctx.arc(27, 1323, 15, Math.PI * 0.75, Math.PI * 1.6);
    ctx.arc(37, 1318, 11, Math.PI * 1.05, Math.PI * 1.9);
    ctx.arc(52, 1324, 12, Math.PI * 1.3, Math.PI * 0.45);
    ctx.closePath();
    ctx.fill();
    ctx.strokeStyle = '#fff';
    ctx.lineWidth = 3;
    ctx.beginPath();
    ctx.moveTo(14, 1335);
    ctx.lineTo(30, 1316);
    ctx.lineTo(41, 1329);
    ctx.lineTo(54, 1312);
    ctx.stroke();
}

const annotations = {
    id: 'annotations',
    beforeDatasetsDraw: drawBoxes,
    afterDatasetsDraw: drawLines,
    afterDraw: drawFrame,
};

new Chart(document.getElementById('chart'), {
    type: 'bar',
    data: {
        datasets: [
            {
                data: volumes.map((v, i) => ({ x: i, y: v })),
                backgroundColor: volumeUp.map((u) => (u ? 'rgba(38,166,154,0.5)' : 'rgba(239,83,80,0.5)')),
                barThickness: 2,
                grouped: false,
                order: 10,
                yAxisID: 'vol',
            },
            {
                data: candleRows.map((r, k) => ({ x: firstCandleBar + k, y: [r[2], r[1]] })),
                backgroundColor: candleRows.map((r) => (isUp(r) ? upColor : downColor)),
                barThickness: 1.5,
                grouped: false,
                order: 9,
                yAxisID: 'y',
            },
            {
                data: candleRows.map((r, k) => ({ x: firstCandleBar + k, y: [Math.min(r[0], r[3]), Math.max(r[0], r[3])] })),
                backgroundColor: candleRows.map((r) => (isUp(r) ? upColor : downColor)),
                barThickness: 3,
                grouped: false,
                order: 8,
                yAxisID: 'y',
            },
            maDataset(maTealBars, maTealValues, '#009688', 2, 5),
            maDataset(maPurpleBars, maPurpleValues, '#9c3fb5', 2, 4),
            maDataset(maSlowBars, maSlowValues, '#2196f3', 2, 3),
            maDataset(maFastBars, maFastValues, '#2196f3', 2, 3),
            maDataset(maRedBars, maRedValues, '#ff0000', 5, 2),
        ],
    },
    options: {
        responsive: false,
        animation: false,
        devicePixelRatio: 1,
        layout: { padding: { left: 13, top: 87, right: 12, bottom: 74 } },
        plugins: { legend: { display: false }, tooltip: { enabled: false } },
        scales: {
            x: {
                type: 'linear',
                offset: false,
                min: -0.7,
                max: 599.8,
                afterBuildTicks(scale) {
                    scale.ticks = xTickBars.map((value) => ({ value }));
                },
                afterFit(scale) {
                    scale.height = 56;
                },
                border: { display: false },
                grid: { drawOnChartArea: false, color: '#50535e', tickLength: 9, lineWidth: 1.5 },
                ticks: {
                    autoSkip: false,
                    maxRotation: 0,
                    padding: 6,
                    color: '#50535e',
                    font: (ctx) => ({ family: 'Lato', size: 23, weight: ctx.tick && /^20/.test(ctx.tick.label) ? 'bold' : 'normal' }),
                    callback: (value, i) => xTickLabels[i],
                },
            },
            y: {
                position: 'right',
                min: -1.48,
                max: 12.03,
                afterBuildTicks(scale) {
                    scale.ticks = yTickValues.map((value) => ({ value }));
                },
                afterFit(scale) {
                    scale.width = 101;
                },
                border: { display: false },
                grid: { drawOnChartArea: false, color: '#50535e', tickLength: 9, lineWidth: 1.5 },
                ticks: {
                    autoSkip: false,
                    padding: 10,
                    color: '#50535e',
                    font: { family: 'Lato', size: 23 },
                    callback: (value) => (value < 0 ? '\u2212' : '') + Math.abs(value).toFixed(2),
                },
            },
            vol: {
                display: false,
                min: -0.21,
                max: 160.3,
            },
        },
    },
    plugins: [annotations],
});
</script>
</body>
</html>
